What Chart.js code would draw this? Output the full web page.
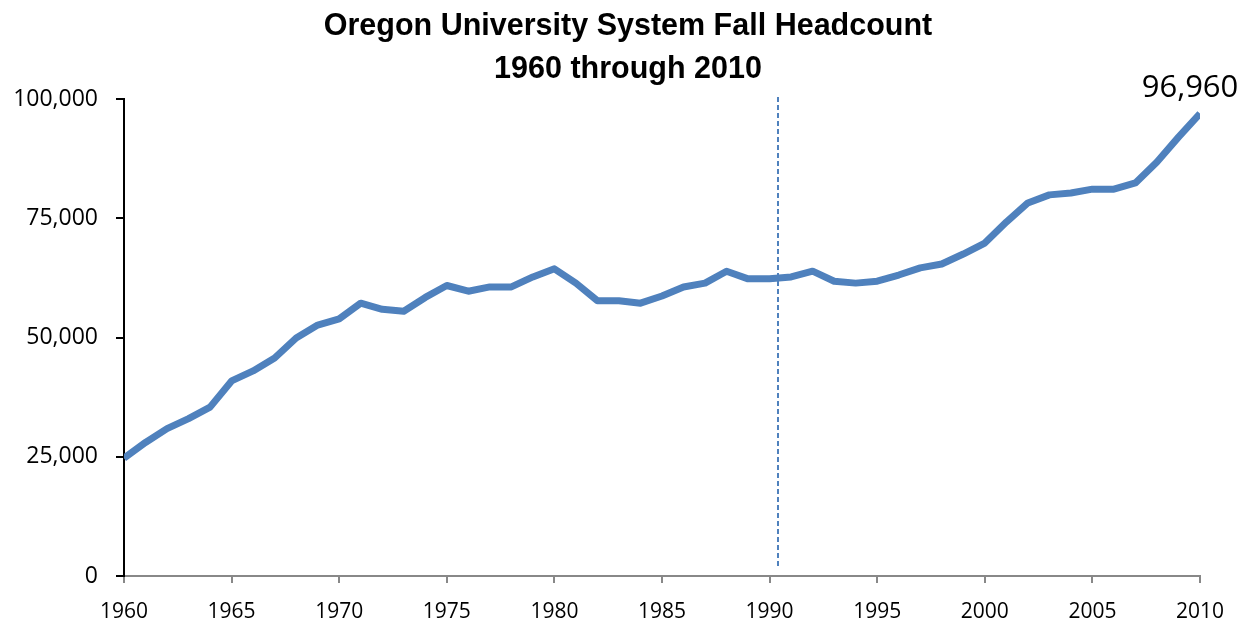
<!DOCTYPE html>
<html>
<head>
<meta charset="utf-8">
<script src="https://cdn.jsdelivr.net/npm/chart.js@4.4.1/dist/chart.umd.min.js"></script>
<style>
  html, body { margin: 0; padding: 0; background: #fff; }
  #wrap { width: 1250px; height: 627px; position: relative; }
</style>
</head>
<body>
<div id="wrap"><canvas id="chartHeadcount"></canvas></div>
<script>
// Fall headcount (last point is labelled 96,960)
const years = [
    1960, 1961, 1962, 1963, 1964, 1965, 1966, 1967, 1968, 1969,
    1970, 1971, 1972, 1973, 1974, 1975, 1976, 1977, 1978, 1979,
    1980, 1981, 1982, 1983, 1984, 1985, 1986, 1987, 1988, 1989,
    1990, 1991, 1992, 1993, 1994, 1995, 1996, 1997, 1998, 1999,
    2000, 2001, 2002, 2003, 2004, 2005, 2006, 2007, 2008, 2009, 2010,
];
const headcount = [
    24700, 28000, 30900, 33000, 35400, 40900, 43000, 45700, 49900, 52600,
    53900, 57200, 55900, 55500, 58400, 60900, 59700, 60600, 60600, 62700,
    64400, 61400, 57700, 57700, 57200, 58700, 60600, 61400, 63900, 62300,
    62300, 62700, 63900, 61800, 61400, 61800, 63100, 64600, 65400, 67500,
    69800, 74200, 78200, 79900, 80300, 81100, 81100, 82400, 86800, 92000,
    96960,
];
const yTicks = [0, 25000, 50000, 75000, 100000];
const xTicks = [1960, 1965, 1970, 1975, 1980, 1985, 1990, 1995, 2000, 2005, 2010];
// dashed divider just after 1990
const markerYear = [1990.39, 1990.39];
const markerRange = [2100, 100700];

const titleLines = ['Oregon University System Fall Headcount', '1960 through 2010'];
const BLUE = '#4F81BD';
const fmt = new Intl.NumberFormat('en-US');

// two-line title, centred on the page rather than on the padded layout box
const pageTitle = {
    id: 'pageTitle',
    afterDraw(chart) {
        const ctx = chart.ctx;
        ctx.save();
        ctx.font = 'bold 30.5px "Liberation Sans", Arial, sans-serif';
        ctx.fillStyle = '#000';
        ctx.textAlign = 'center';
        ctx.textBaseline = 'middle';
        titleLines.forEach((line, i) => ctx.fillText(line, chart.width / 2 + 3, 27 + i * 43));
        ctx.restore();
    },
};

// writes the value of the last point above it
const endLabel = {
    id: 'endLabel',
    afterDatasetsDraw(chart) {
        const meta = chart.getDatasetMeta(0);
        const pt = meta.data[meta.data.length - 1];
        const ctx = chart.ctx;
        ctx.save();
        ctx.font = '31px "Open Sans"';
        ctx.fillStyle = '#000';
        ctx.textAlign = 'center';
        ctx.textBaseline = 'middle';
        ctx.fillText(fmt.format(headcount[headcount.length - 1]), pt.x - 10, pt.y - 25);
        ctx.restore();
    },
};

new Chart(document.getElementById('chartHeadcount'), {
    type: 'line',
    data: {
        datasets: [{
            data: years.map((y, i) => ({ x: y, y: headcount[i] })),
            borderColor: BLUE,
            borderWidth: 7,
            pointRadius: 0,
            tension: 0,
            borderJoinStyle: 'round',
        }, {
            data: markerYear.map((y, i) => ({ x: y, y: markerRange[i] })),
            borderColor: BLUE,
            borderWidth: 2,
            borderDash: [5, 3],
            pointRadius: 0,
            clip: false,
        }],
    },
    options: {
        responsive: true,
        maintainAspectRatio: false,
        animation: false,
        layout: { padding: { left: 0, right: 50, top: 99, bottom: 0 } },
        plugins: {
            legend: { display: false },
            tooltip: { enabled: false },
            title: { display: false },
        },
        scales: {
            x: {
                type: 'linear',
                min: 1960,
                max: 2010,
                afterBuildTicks: (s) => { s.ticks = xTicks.map(v => ({ value: v })); },
                afterFit: (s) => { s.height = 51; },
                grid: { drawOnChartArea: false, drawTicks: true, tickLength: 7, color: '#888', lineWidth: 2 },
                border: { display: true, color: '#888', width: 2 },
                ticks: {
                    color: '#000',
                    font: { family: '"Open Sans"', size: 21 },
                    padding: 16,
                    callback: (v) => String(v),
                },
            },
            y: {
                min: 0,
                max: 100000,
                afterBuildTicks: (s) => { s.ticks = yTicks.map(v => ({ value: v })); },
                afterFit: (s) => { s.width = 124; },
                grid: { drawOnChartArea: false, drawTicks: true, tickLength: 8, color: '#000', lineWidth: 2 },
                border: { display: true, color: '#000', width: 2 },
                ticks: {
                    color: '#000',
                    font: { family: '"Open Sans"', size: 23 },
                    padding: 18,
                    callback: (v) => fmt.format(v),
                },
            },
        },
    },
    plugins: [endLabel, pageTitle],
});
</script>
</body>
</html>
